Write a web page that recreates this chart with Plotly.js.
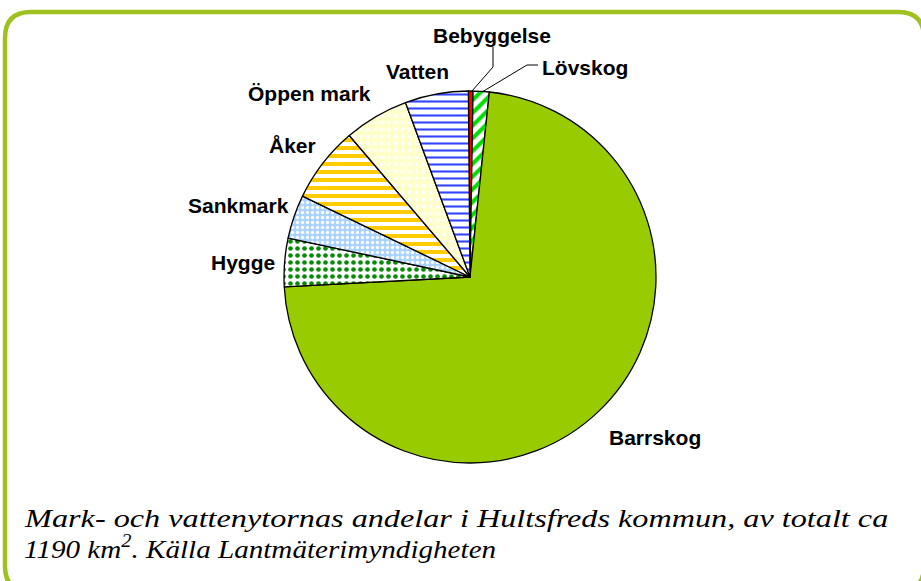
<!DOCTYPE html>
<html>
<head>
<meta charset="utf-8">
<script src="https://cdn.plot.ly/plotly-3.0.1.min.js"></script>
<style>
html,body{margin:0;padding:0;background:#fff;}
#chart{width:921px;height:581px;}
text.annotation-text[data-unformatted^="Mark-"]{
  transform-box: fill-box; transform-origin: 0 50%; transform: scaleX(1.24);
}
text.annotation-text[data-unformatted^="1190"]{
  transform-box: fill-box; transform-origin: 0 50%; transform: scaleX(1.12);
}
</style>
</head>
<body>
<div id="chart"></div>
<script>
// Data (percent of total area), clockwise from 12 o'clock
const labels = ["Bebyggelse", "Lövskog", "Barrskog", "Hygge", "Sankmark", "Åker", "Öppen mark", "Vatten"];
const values = [0.4, 1.4, 72.5, 4.2, 3.8, 6.6, 5.6, 5.5];
const captionLine1 = "Mark- och vattenytornas andelar i Hultsfreds kommun, av totalt ca";
const captionLine2 = "1190 km<sup>2</sup>. Källa Lantmäterimyndigheten";

// Styling
const sliceColors = ["#ff0000", "#ffffff", "#99cc00", "#ffffff", "#a8d2ff", "#ffffff", "#ffffcc", "#ffffff"];
const patShape = ["", "/", "", ".", ".", "-", ".", "-"];
const patFg = ["#ff0000", "#00dd00", "#99cc00", "#0a8a0a", "#ffffff", "#ffcc00", "#ffffff", "#3344ff"];
const patBg = ["#ff0000", "#ffffff", "#99cc00", "#ffffff", "#a8d2ff", "#ffffff", "#ffffcc", "#ffffff"];
const patSize = [8, 9, 8, 7, 5, 8, 7, 7];
const patSolid = [0.3, 0.45, 0.3, 0.35, 0.35, 0.5, 0.2, 0.3];

// Label positions (pixels)
const labelPos = [[492, 36], [585, 67], [655, 437], [243, 262], [238, 206], [292, 146], [309, 94], [417, 71]];

const W = 921, H = 581;
const px = x => x / W, py = y => 1 - y / H;
const P = (x, y) => px(x) + "," + py(y);

const serif = "'Liberation Serif', 'Times New Roman', Times, serif";
const annotations = labels.map((t, i) => ({
  text: t, xref: "paper", yref: "paper", x: px(labelPos[i][0]), y: py(labelPos[i][1]),
  xanchor: "center", yanchor: "middle", showarrow: false,
  font: {family: "'Liberation Sans', Arial, sans-serif", size: 21, color: "#000", weight: 700}
}));
annotations.push({
  text: captionLine1, xref: "paper", yref: "paper", x: px(22), y: py(518),
  xanchor: "left", yanchor: "middle", showarrow: false,
  font: {family: serif, size: 26, color: "#000", style: "italic"}
});
annotations.push({
  text: captionLine2, xref: "paper", yref: "paper", x: px(22), y: py(547),
  xanchor: "left", yanchor: "middle", showarrow: false,
  font: {family: serif, size: 26, color: "#000", style: "italic"}
});

// rounded frame
const L = 5, T = 12, R = 924, B = 592, r = 26;
const framePath = "M " + P(L + r, T) + " L " + P(R - r, T) + " Q " + P(R, T) + " " + P(R, T + r) +
  " L " + P(R, B - r) + " Q " + P(R, B) + " " + P(R - r, B) + " L " + P(L + r, B) +
  " Q " + P(L, B) + " " + P(L, B - r) + " L " + P(L, T + r) + " Q " + P(L, T) + " " + P(L + r, T) + " Z";

const shapes = [
  {type: "path", xref: "paper", yref: "paper", path: framePath, line: {color: "#9fc11f", width: 4.5}, layer: "below"},
  {type: "path", xref: "paper", yref: "paper", path: "M " + P(493, 47) + " L " + P(493, 67) + " L " + P(472, 91), line: {color: "#000", width: 1}},
  {type: "path", xref: "paper", yref: "paper", path: "M " + P(538, 65) + " L " + P(527, 65) + " L " + P(482, 92), line: {color: "#000", width: 1}}
];

const trace = {
  type: "pie", labels: labels, values: values, sort: false, direction: "clockwise", rotation: -0.5,
  textinfo: "none", hoverinfo: "skip", showlegend: false,
  domain: {x: [px(284), px(656)], y: [py(463), py(91)]},
  marker: {
    colors: sliceColors,
    line: {color: "#000", width: 1.3},
    pattern: {shape: patShape, fgcolor: patFg, bgcolor: patBg, size: patSize, solidity: patSolid, fillmode: "replace"}
  }
};

Plotly.newPlot("chart", [trace], {
  width: W, height: H, margin: {l: 0, r: 0, t: 0, b: 0},
  paper_bgcolor: "#fff", plot_bgcolor: "#fff", showlegend: false,
  annotations: annotations, shapes: shapes
}, {displayModeBar: false, staticPlot: true});
</script>
</body>
</html>
